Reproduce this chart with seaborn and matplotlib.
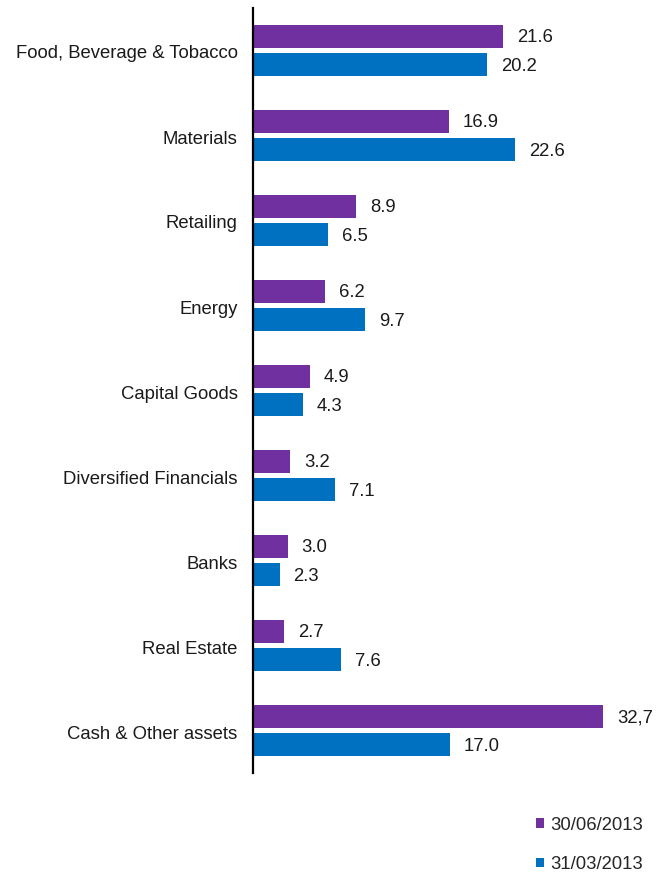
import matplotlib
matplotlib.use("Agg")
import matplotlib.pyplot as plt
import matplotlib.transforms as mtransforms
from matplotlib.patches import Patch
import seaborn as sns
import pandas as pd

categories = ["Food, Beverage & Tobacco", "Materials", "Retailing", "Energy",
              "Capital Goods", "Diversified Financials", "Banks", "Real Estate",
              "Cash & Other assets"]
series_names = ["30/06/2013", "31/03/2013"]
values_jun = [21.6, 16.9, 8.9, 6.2, 4.9, 3.2, 3.0, 2.7, 32.7]
values_mar = [20.2, 22.6, 6.5, 9.7, 4.3, 7.1, 2.3, 7.6, 17.0]
labels_jun = ["21.6", "16.9", "8.9", "6.2", "4.9", "3.2", "3.0", "2.7", "32,7"]
labels_mar = ["20.2", "22.6", "6.5", "9.7", "4.3", "7.1", "2.3", "7.6", "17.0"]
colors = ["#7030A0", "#0070C0"]

df = pd.DataFrame({
    "category": categories * 2,
    "series": [series_names[0]] * len(categories) + [series_names[1]] * len(categories),
    "value": values_jun + values_mar,
})

sns.set_style("white")
plt.rcParams["font.family"] = ["Liberation Sans", "DejaVu Sans"]
FS = 13.3

fig = plt.figure(figsize=(6.64, 8.72), dpi=100)
ax = fig.add_axes([253 / 664, 1 - 773 / 872, (603 - 253) / 664, (773 - 8) / 872])

sns.barplot(data=df, y="category", x="value", hue="series", orient="h",
            palette=colors, width=0.67, gap=0.2, dodge=True, legend=False,
            saturation=1, ax=ax, errorbar=None, linewidth=0)

xmax = 30.2
ax.set_xlim(0, xmax)
ax.set_ylim(len(categories) - 0.5, -0.5)

# value labels
for container, labs in zip(ax.containers, [labels_jun, labels_mar]):
    for bar, lab in zip(container, labs):
        end = min(bar.get_x() + bar.get_width(), xmax)
        yc = bar.get_y() + bar.get_height() / 2
        ax.annotate(lab, xy=(end, yc), xytext=(10, -1), textcoords="offset points",
                    ha="left", va="center", fontsize=FS, color="#1a1a1a",
                    annotation_clip=False)

for s in ["top", "right", "bottom"]:
    ax.spines[s].set_visible(False)
ax.spines["left"].set_color("black")
ax.spines["left"].set_linewidth(1.6)
ax.set_xticks([])
ax.set_xlabel("")
ax.set_ylabel("")
ax.tick_params(axis="y", length=0, pad=11, labelsize=FS, labelcolor="#1a1a1a")
offset = mtransforms.ScaledTranslation(0, -1.5 / 100, fig.dpi_scale_trans)
for lbl in ax.get_yticklabels():
    lbl.set_transform(lbl.get_transform() + offset)

handles = [Patch(facecolor=c, edgecolor="none") for c in colors]
fig.legend(handles, series_names, loc="center left",
           bbox_to_anchor=(536 / 664, 1 - 845 / 872), frameon=False,
           fontsize=FS, handlelength=0.45, handleheight=0.45, handletextpad=0.3,
           labelspacing=1.2, borderpad=0, borderaxespad=0)

fig.savefig("out.png", dpi=100)
